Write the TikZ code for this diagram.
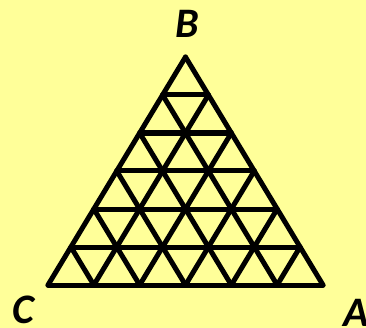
\documentclass[tikz,border=0pt]{standalone}
\usepackage{fontspec}
\setmainfont{Carlito}
\usetikzlibrary{calc}
\definecolor{bg}{HTML}{FFFF99}
\tikzset{gridline/.style={line width=5pt,line cap=round,line join=round},
 lbl/.style={font=\fontsize{42}{42}\selectfont\bfseries\itshape,inner sep=0pt}}
\begin{document}
\begin{tikzpicture}[x=1pt,y=-1pt]
\fill[bg] (0,0) rectangle (366,328);
\useasboundingbox (0,0) rectangle (366,328);
\coordinate (C) at (48,285);
\coordinate (A) at (323,285);
\coordinate (B) at (185.5,57);
\foreach \k in {0,...,5}{
  \pgfmathsetmacro{\a}{\k/6}
  % horizontal
  \draw[gridline] ($(C)!\a!(B)$) -- ($(A)!\a!(B)$);
  % parallel to CB
  \draw[gridline] ($(C)!\a!(A)$) -- ($(C)!\a!(A)+(B)-(C)-\a*(B)+\a*(C)$);
}
\foreach \k in {1,...,6}{
  \pgfmathsetmacro{\a}{\k/6}
  \draw[gridline] ($(C)!\a!(A)$) -- ($(C)!\a!(B)$);
}
\node[lbl] (lB) at (187,24) {B};
\node[lbl] (lC) at (23,310) {C};
\node[lbl] (lA) at (356,313) {A};
\end{tikzpicture}
\end{document}
